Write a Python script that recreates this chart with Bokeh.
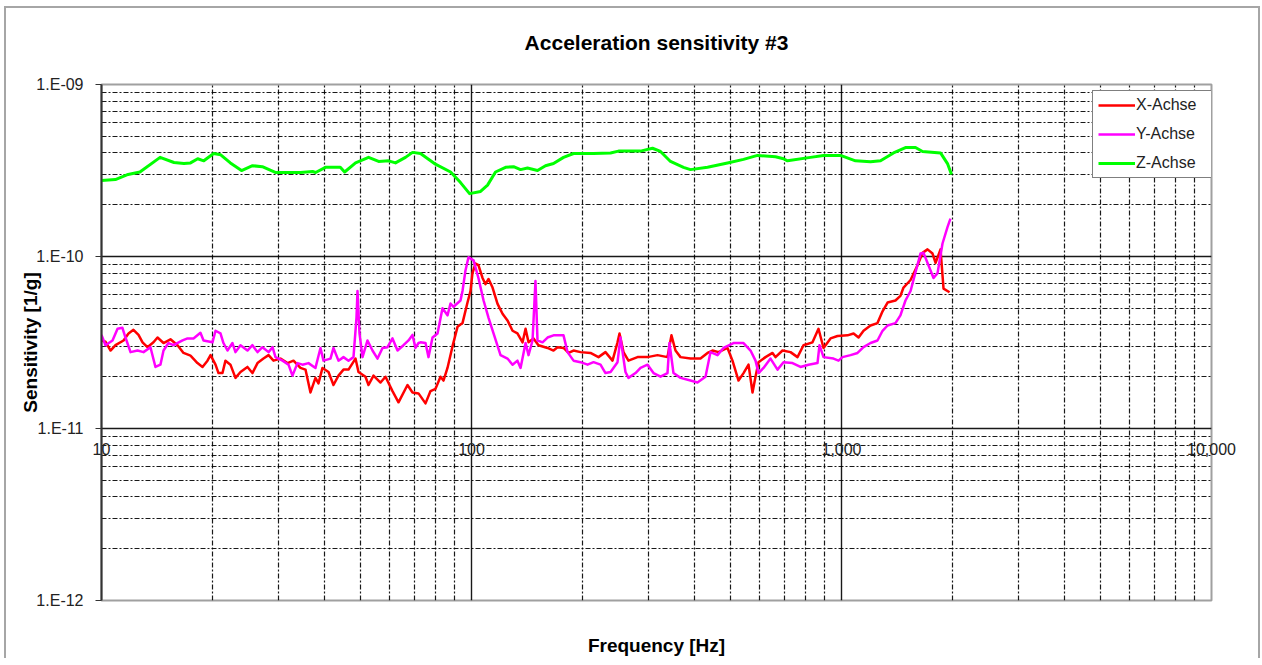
from bokeh.plotting import figure
from bokeh.models import (Range1d, FixedTicker, CustomJSTickFormatter, Legend,
                          LegendItem, Label)
from bokeh.embed import file_html
from bokeh.resources import INLINE

# ---------------- data ----------------
title_text = "Acceleration sensitivity #3"
x_label = "Frequency [Hz]"
y_label = "Sensitivity [1/g]"
series_names = ["X-Achse", "Y-Achse", "Z-Achse"]

x_freq = [10.0, 10.25, 10.58, 10.91, 11.47, 11.83, 12.20, 12.59, 12.91, 13.31, 13.82, 14.17,
          14.71, 15.36, 16.05, 16.66, 17.40, 18.17, 18.75, 19.34, 19.71, 20.33, 20.71, 21.23,
          21.63, 22.31, 23.02, 23.75, 24.80, 25.58, 26.40, 27.40, 28.28, 29.17, 30.47, 31.82,
          33.03, 34.49, 35.59, 36.71, 37.87, 38.58, 39.56, 41.07, 42.36, 43.70, 45.08, 46.51,
          48.58, 49.50, 51.70, 52.68, 54.34, 56.77, 58.56, 61.16, 63.49, 67.14, 69.27, 71.91,
          75.11, 77.49, 79.93, 82.45, 84.0, 86.12, 88.84, 91.66, 94.55, 97.54, 99.38, 100.6,
          102.5, 104.4, 107.1, 109.1, 111.2, 114.0, 117.6, 121.3, 125.1, 129.1, 133.1, 137.4,
          140.0, 142.6, 147.1, 151.7, 160.5, 166.6, 170.8, 177.3, 182.9, 188.7, 197.1, 209.7,
          220.4, 230.2, 240.5, 248.1, 251.2, 257.5, 265.6, 281.0, 299.1, 318.2, 338.6, 347.1,
          355.9, 367.2, 390.7, 415.8, 434.4, 448.1, 465.1, 491.9, 507.4, 526.8, 543.5, 560.7,
          574.8, 585.6, 596.6, 623.2, 651.0, 663.2, 692.7, 728.1, 760.5, 789.4, 834.9, 866.6,
          894.2, 934.0, 975.5, 1038, 1078, 1112, 1147, 1198, 1251, 1291, 1332, 1399,
          1443, 1471, 1537, 1605, 1656, 1708, 1762, 1796, 1852, 1887, 1959]
x_sens = [3.25e-11, 3.2e-11, 2.84e-11, 3.05e-11, 3.25e-11, 3.57e-11, 3.75e-11, 3.5e-11, 3.17e-11, 2.97e-11, 3.17e-11, 3.38e-11,
          3.14e-11, 3.3e-11, 3.05e-11, 2.75e-11, 2.65e-11, 2.4e-11, 2.28e-11, 2.48e-11, 2.67e-11, 2.35e-11, 2.1e-11, 2.1e-11,
          2.48e-11, 2.35e-11, 1.97e-11, 2.13e-11, 2.28e-11, 2.1e-11, 2.4e-11, 2.55e-11, 2.67e-11, 2.48e-11, 2.55e-11, 2.4e-11,
          2.48e-11, 2.25e-11, 2.2e-11, 1.62e-11, 1.97e-11, 1.83e-11, 2.25e-11, 2.13e-11, 1.79e-11, 2.03e-11, 2.2e-11, 2.2e-11,
          2.55e-11, 2.13e-11, 2.0e-11, 1.79e-11, 2.03e-11, 1.85e-11, 2.0e-11, 1.65e-11, 1.42e-11, 1.79e-11, 1.62e-11, 1.6e-11,
          1.4e-11, 1.65e-11, 1.7e-11, 2.0e-11, 1.9e-11, 2.25e-11, 3.0e-11, 3.9e-11, 4.1e-11, 5.4e-11, 6.3e-11, 8.0e-11,
          9.1e-11, 8.9e-11, 7.5e-11, 6.9e-11, 7.4e-11, 6.6e-11, 5.3e-11, 4.65e-11, 4.25e-11, 3.7e-11, 3.57e-11, 3.17e-11,
          3.8e-11, 3.17e-11, 3.34e-11, 3.05e-11, 2.94e-11, 2.84e-11, 2.97e-11, 2.94e-11, 2.75e-11, 2.84e-11, 2.78e-11, 2.75e-11,
          2.6e-11, 2.78e-11, 2.48e-11, 3.17e-11, 3.57e-11, 2.78e-11, 2.48e-11, 2.6e-11, 2.6e-11, 2.67e-11, 2.6e-11, 3.48e-11,
          2.84e-11, 2.6e-11, 2.55e-11, 2.55e-11, 2.75e-11, 2.84e-11, 2.78e-11, 2.94e-11, 2.48e-11, 1.9e-11, 2.1e-11, 2.35e-11,
          1.62e-11, 2.0e-11, 2.43e-11, 2.6e-11, 2.75e-11, 2.6e-11, 2.84e-11, 2.78e-11, 2.6e-11, 3.05e-11, 3.17e-11, 3.8e-11,
          2.94e-11, 3.34e-11, 3.45e-11, 3.48e-11, 3.57e-11, 3.38e-11, 3.7e-11, 3.97e-11, 4.1e-11, 4.8e-11, 5.4e-11, 5.55e-11,
          5.9e-11, 6.6e-11, 7.3e-11, 8.9e-11, 1.05e-10, 1.1e-10, 1.04e-10, 9.2e-11, 1.1e-10, 6.5e-11, 6.2e-11]

y_freq = [10.0, 10.25, 10.71, 11.05, 11.39, 11.61, 11.98, 12.51, 12.99, 13.56, 13.99, 14.43,
          14.71, 15.17, 15.65, 16.56, 17.08, 17.73, 18.51, 18.87, 19.95, 20.33, 20.97, 21.36,
          21.90, 22.59, 23.02, 23.75, 24.80, 25.58, 26.40, 27.23, 28.28, 28.99, 29.53, 30.85,
          32.02, 32.82, 33.86, 34.93, 36.26, 37.87, 39.07, 39.81, 41.58, 42.36, 43.70, 45.08,
          46.51, 47.98, 48.88, 49.19, 49.81, 50.75, 52.35, 54.00, 55.72, 57.48, 59.29, 61.16,
          63.10, 65.49, 67.57, 69.27, 70.57, 71.91, 72.81, 75.11, 76.53, 78.46, 80.93, 83.48,
          86.12, 87.75, 89.41, 93.38, 94.55, 96.33, 98.15, 101.3, 104.4, 107.8, 111.2, 114.7,
          119.8, 125.1, 129.1, 133.1, 135.7, 140.0, 142.6, 146.2, 148.9, 150.8, 155.6, 160.5,
          166.6, 177.3, 181.8, 188.7, 197.1, 205.9, 213.7, 223.2, 230.2, 237.6, 248.1, 252.7,
          260.7, 265.6, 277.5, 286.3, 299.1, 310.4, 324.2, 338.6, 342.8, 351.5, 367.2, 390.7,
          408.1, 429.0, 442.5, 462.2, 479.8, 510.6, 543.5, 567.7, 585.6, 596.6, 615.5, 642.9,
          671.5, 697.0, 737.2, 774.8, 814.4, 861.2, 872.0, 894.2, 951.5, 981.5, 1006, 1058,
          1105, 1147, 1198, 1251, 1291, 1332, 1399, 1443, 1489, 1537, 1585, 1635,
          1666, 1718, 1773, 1818, 1875, 1934, 1970]
y_sens = [3.5e-11, 3.05e-11, 3.25e-11, 3.8e-11, 3.85e-11, 3.38e-11, 2.78e-11, 2.84e-11, 2.78e-11, 2.97e-11, 2.28e-11, 2.35e-11,
          2.84e-11, 3.14e-11, 3.05e-11, 3.25e-11, 3.34e-11, 3.34e-11, 3.6e-11, 3.25e-11, 3.17e-11, 3.7e-11, 3.57e-11, 3.14e-11,
          2.84e-11, 3.14e-11, 2.78e-11, 3.05e-11, 2.84e-11, 3.05e-11, 2.78e-11, 2.97e-11, 2.78e-11, 2.97e-11, 2.6e-11, 2.48e-11,
          2.35e-11, 2.03e-11, 2.4e-11, 2.35e-11, 2.4e-11, 2.25e-11, 2.94e-11, 2.48e-11, 2.55e-11, 2.94e-11, 2.48e-11, 2.6e-11,
          2.48e-11, 2.6e-11, 4.4e-11, 6.3e-11, 3.57e-11, 2.6e-11, 3.25e-11, 2.84e-11, 2.55e-11, 2.94e-11, 2.97e-11, 3.34e-11,
          2.84e-11, 3.05e-11, 3.25e-11, 3.5e-11, 2.94e-11, 3.14e-11, 3.17e-11, 3.14e-11, 2.6e-11, 3.38e-11, 3.57e-11, 5.0e-11,
          4.55e-11, 5.33e-11, 5.1e-11, 5.55e-11, 6.3e-11, 8.3e-11, 9.9e-11, 9.5e-11, 7.5e-11, 5.55e-11, 4.4e-11, 3.57e-11,
          2.67e-11, 2.55e-11, 2.35e-11, 2.48e-11, 2.25e-11, 3.14e-11, 2.67e-11, 3.25e-11, 7.2e-11, 3.25e-11, 3.17e-11, 3.38e-11,
          3.48e-11, 3.48e-11, 2.78e-11, 2.48e-11, 2.43e-11, 2.35e-11, 2.43e-11, 2.35e-11, 2.1e-11, 2.13e-11, 2.43e-11, 3.38e-11,
          2.13e-11, 1.97e-11, 2.1e-11, 2.25e-11, 2.35e-11, 2.1e-11, 2.0e-11, 2.1e-11, 3.14e-11, 2.1e-11, 1.97e-11, 1.9e-11,
          1.85e-11, 2.0e-11, 2.78e-11, 2.67e-11, 2.94e-11, 3.14e-11, 3.14e-11, 2.84e-11, 2.48e-11, 2.1e-11, 2.25e-11, 2.55e-11,
          2.2e-11, 2.43e-11, 2.4e-11, 2.28e-11, 2.35e-11, 2.4e-11, 3.05e-11, 2.6e-11, 2.55e-11, 2.48e-11, 2.6e-11, 2.67e-11,
          2.75e-11, 2.97e-11, 3.14e-11, 3.25e-11, 3.7e-11, 3.97e-11, 4.1e-11, 4.55e-11, 5.55e-11, 6.3e-11, 8.1e-11, 1.04e-10,
          1.05e-10, 8.9e-11, 7.5e-11, 8.0e-11, 1.19e-10, 1.48e-10, 1.66e-10]

z_freq = [10.0, 10.9, 11.8, 12.7, 14.4, 15.7, 16.7, 17.4, 18.2, 18.9, 20.1, 21.0,
          22.3, 23.9, 25.6, 27.2, 29.5, 34.5, 37.2, 37.9, 40.3, 44.2, 45.4, 48.6,
          52.7, 56.1, 59.7, 62.3, 66.3, 69.3, 72.8, 79.4, 87.8, 93.4, 98.8, 105.8,
          110.5, 116.1, 123.6, 129.9, 135.7, 141.7, 150.8, 158.5, 166.6, 177.3, 188.7, 213.7,
          237.6, 249.6, 286.2, 308.4, 324.2, 345.0, 374.1, 390.7, 434.4, 491.9, 543.5, 592.9,
          663.2, 696.9, 714.5, 824.5, 894.2, 993.8, 1091, 1198, 1275, 1382, 1489, 1585,
          1656, 1852, 1934, 1983]
z_sens = [2.77e-10, 2.8e-10, 3.0e-10, 3.1e-10, 3.77e-10, 3.52e-10, 3.47e-10, 3.5e-10, 3.7e-10, 3.6e-10, 3.97e-10, 3.9e-10,
          3.5e-10, 3.16e-10, 3.37e-10, 3.33e-10, 3.08e-10, 3.08e-10, 3.12e-10, 3.08e-10, 3.3e-10, 3.3e-10, 3.1e-10, 3.5e-10,
          3.77e-10, 3.57e-10, 3.6e-10, 3.5e-10, 3.77e-10, 4.03e-10, 3.97e-10, 3.47e-10, 3.1e-10, 2.69e-10, 2.32e-10, 2.39e-10,
          2.6e-10, 3.1e-10, 3.3e-10, 3.33e-10, 3.2e-10, 3.27e-10, 3.16e-10, 3.37e-10, 3.47e-10, 3.77e-10, 3.97e-10, 3.97e-10,
          4.0e-10, 4.1e-10, 4.1e-10, 4.26e-10, 4.08e-10, 3.57e-10, 3.3e-10, 3.2e-10, 3.3e-10, 3.5e-10, 3.67e-10, 3.87e-10,
          3.8e-10, 3.7e-10, 3.6e-10, 3.77e-10, 3.87e-10, 3.87e-10, 3.6e-10, 3.55e-10, 3.6e-10, 4.0e-10, 4.3e-10, 4.3e-10,
          4.08e-10, 4.0e-10, 3.47e-10, 3.0e-10]

x_tick_values = [10, 100, 1000, 10000]
x_tick_labels = ["10", "100", "1,000", "10,000"]
y_tick_values = [1e-12, 1e-11, 1e-10, 1e-9]
x_axis_crossing = 1e-11
x_start, x_end = 10, 10000
y_start, y_end = 1e-12, 1e-9

# ---------------- figure ----------------
FONT = "Liberation Sans"

p = figure(x_axis_type="log", y_axis_type="log",
           x_range=Range1d(x_start, x_end), y_range=Range1d(y_start, y_end),
           frame_width=1110, frame_height=516,
           min_border_left=95, min_border_right=47, min_border_top=76, min_border_bottom=58,
           output_backend="svg", toolbar_location=None, title=title_text)

p.styles = {"border-left": "2px solid #a6a6a6", "border-top": "2px solid #a6a6a6",
            "border-right": "2px solid #a6a6a6", "margin-left": "4px", "margin-top": "6px"}

p.background_fill_color = "white"
p.border_fill_color = "white"
p.outline_line_color = "#a0a0a0"
p.outline_line_width = 2

p.title.text_font = FONT
p.title.text_font_size = "21px"
p.title.text_font_style = "bold"
p.title.text_color = "black"
p.title.align = "center"
p.title.standoff = 14

# grids
x_minor = [m * 10 ** k for k in range(1, 4) for m in range(2, 10)]
y_minor = [m * 10.0 ** k for k in range(-12, -9) for m in range(2, 10)] + [1e-9]

p.xaxis.ticker = FixedTicker(ticks=[])
p.xgrid.ticker = FixedTicker(ticks=[100, 1000], minor_ticks=x_minor)
p.yaxis.ticker = FixedTicker(ticks=y_tick_values)
p.ygrid.ticker = FixedTicker(ticks=[1e-11, 1e-10], minor_ticks=y_minor)

for g in (p.xgrid, p.ygrid):
    g.grid_line_color = "black"
    g.grid_line_width = 1.4
    g.grid_line_alpha = 0.9
    g.minor_grid_line_color = "black"
    g.minor_grid_line_width = 1.2
    g.minor_grid_line_alpha = 0.9
    g.minor_grid_line_dash = "5 2 2 2"

# y axis
p.yaxis.formatter = CustomJSTickFormatter(code="""
const e = Math.round(Math.log10(tick));
return "1.E" + (e < 0 ? "-" : "") + String(Math.abs(e)).padStart(2, "0");
""")
p.yaxis.axis_label = y_label
p.yaxis.axis_label_text_font = FONT
p.yaxis.axis_label_text_font_size = "19px"
p.yaxis.axis_label_text_font_style = "bold"
p.yaxis.axis_label_text_color = "black"
p.yaxis.axis_label_standoff = -8
p.yaxis.major_label_text_font = FONT
p.yaxis.major_label_text_font_size = "16px"
p.yaxis.major_label_text_color = "#222222"
p.yaxis.major_label_standoff = 12
p.yaxis.major_tick_out = 6
p.yaxis.major_tick_in = 0
p.yaxis.major_tick_line_color = "#333333"
p.yaxis.minor_tick_line_color = None
p.yaxis.axis_line_color = "#333333"
p.yaxis.axis_line_width = 2

# x axis: only the title lives in the bottom panel
p.xaxis.axis_label = x_label
p.xaxis.axis_label_text_font = FONT
p.xaxis.axis_label_text_font_size = "19px"
p.xaxis.axis_label_text_font_style = "bold"
p.xaxis.axis_label_text_color = "black"
p.xaxis.axis_label_standoff = 34
p.xaxis.major_tick_out = 0
p.xaxis.major_tick_in = 0
p.xaxis.minor_tick_line_color = None
p.xaxis.axis_line_color = None
p.xaxis.major_label_standoff = 0

# x tick labels sit just below the 1e-11 crossing line;
# the two at the frame edges are hosted by the top panel so they are not clipped
for xv, txt in zip(x_tick_values, x_tick_labels):
    lab = Label(x=xv, y=x_axis_crossing, text=txt, text_align="center",
                text_baseline="middle", y_offset=-20, text_font=FONT,
                text_font_size="16px", text_color="#222222")
    if xv in (x_start, x_end):
        p.add_layout(lab, "above")
    else:
        p.add_layout(lab)

# series
rx = p.line(x_freq, x_sens, line_color="#ff0000", line_width=2.5, line_join="round")
ry = p.line(y_freq, y_sens, line_color="#ff00ff", line_width=2.5, line_join="round")
rz = p.line(z_freq, z_sens, line_color="#00ff00", line_width=3, line_join="round")

legend = Legend(items=[LegendItem(label=series_names[0], renderers=[rx]),
                       LegendItem(label=series_names[1], renderers=[ry]),
                       LegendItem(label=series_names[2], renderers=[rz])],
                location=(991, 422))
legend.border_line_color = "black"
legend.border_line_width = 1.5
legend.background_fill_color = "white"
legend.background_fill_alpha = 1
legend.label_text_font = FONT
legend.label_text_font_size = "16px"
legend.label_text_color = "#222222"
legend.glyph_width = 37
legend.glyph_height = 18
legend.label_height = 18
legend.label_width = 70
legend.label_standoff = 1
legend.padding = 5
legend.spacing = 11
legend.margin = 0
p.add_layout(legend)

open("out.html", "w").write(file_html(p, INLINE))
